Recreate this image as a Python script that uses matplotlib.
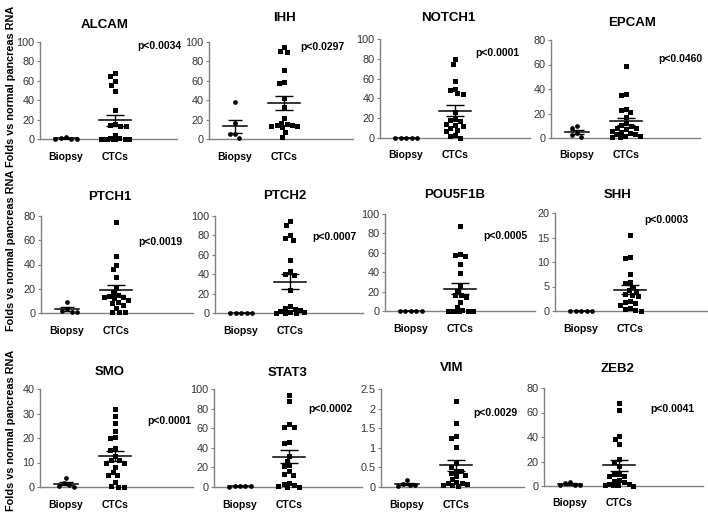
import numpy as np
import matplotlib.pyplot as plt

plt.rcParams['font.family'] = ['Liberation Sans', 'DejaVu Sans']

# ---------------------------------------------------------------- data
genes = ['ALCAM', 'IHH', 'NOTCH1', 'EPCAM',
         'PTCH1', 'PTCH2', 'POU5F1B', 'SHH',
         'SMO', 'STAT3', 'VIM', 'ZEB2']
p_values = ['p<0.0034', 'p<0.0297', 'p<0.0001', 'p<0.0460',
            'p<0.0019', 'p<0.0007', 'p<0.0005', 'p<0.0003',
            'p<0.0001', 'p<0.0002', 'p<0.0029', 'p<0.0041']
y_max = [100, 100, 100, 80, 80, 100, 100, 20, 40, 100, 2.5, 80]
y_step = [20, 20, 20, 20, 20, 20, 20, 5, 10, 20, 0.5, 20]
groups = ['Biopsy', 'CTCs']

alcam_biopsy = [2, 0.8, 0.5, 0.5, 0.3]
alcam_ctcs = [68, 65, 60, 56, 49, 30, 15, 14, 13, 13, 4,
              0.8, 0.6, 0.5, 0.4, 0.3, 0.2, 0.2, 0.1, 0.1]
ihh_biopsy = [38, 17, 5, 5, 1]
ihh_ctcs = [95, 91, 90, 71, 59, 58, 42, 33, 22, 17, 15, 14, 14, 13, 13,
            12, 7, 2]
notch1_biopsy = [0, 0, 0, 0, 0]
notch1_ctcs = [80, 75, 58, 50, 48, 45, 44, 26, 19, 18, 17, 14, 13, 12,
               10, 8, 7, 3, 2, 0]
epcam_biopsy = [9.5, 8.5, 4, 2.5, 1]
epcam_ctcs = [59, 36, 35, 24, 23, 21, 17, 12, 11, 10, 8, 8, 7, 6, 5, 4,
              3, 3, 2, 2, 1, 1]
ptch1_biopsy = [9, 3, 2, 1, 0.5]
ptch1_ctcs = [75, 47, 40, 36, 30, 21, 17, 15, 14, 13, 13, 12, 11, 9, 8,
              7, 4, 1, 0.5, 0.5]
ptch2_biopsy = [0, 0, 0, 0, 0]
ptch2_ctcs = [95, 91, 80, 77, 75, 55, 43, 40, 39, 24, 7, 5, 4, 3, 2, 1,
              1, 0.5, 0.5, 0.5]
pou5f1b_biopsy = [0, 0, 0, 0, 0]
pou5f1b_ctcs = [88, 59, 58, 57, 48, 39, 26, 21, 17, 16, 14, 9, 4, 1,
                0.5, 0.5, 0.5, 0.5, 0.5, 0.5]
shh_biopsy = [0, 0, 0, 0, 0]
shh_ctcs = [15.6, 11, 10.8, 7.5, 5.9, 5.7, 5.0, 4.2, 4.0, 3.5, 3.2, 3.0,
            2.0, 1.8, 1.6, 1.2, 0.6, 0.5, 0.2, 0.1]
smo_biopsy = [3.5, 1.5, 1, 0.3, 0.2]
smo_ctcs = [32, 29, 26, 23, 20.5, 20, 16, 15, 12.5, 11, 11, 10, 10, 8, 6,
            5, 5, 2, 0.3, 0.2, 0.1]
stat3_biopsy = [1.5, 1.2, 1, 0.8, 0.5]
stat3_ctcs = [94, 88, 64, 61, 61, 46, 45, 32, 27, 22, 21, 16, 13, 12, 4,
              3, 2, 1, 0.5, 0.5]
vim_biopsy = [0.18, 0.08, 0.06, 0.05, 0.02]
vim_ctcs = [2.2, 1.62, 1.3, 1.25, 1.03, 0.6, 0.52, 0.42, 0.4, 0.35, 0.3,
            0.28, 0.2, 0.12, 0.1, 0.1, 0.08, 0.05, 0.05, 0.03]
zeb2_biopsy = [3, 2.8, 1, 0.6, 0.5]
zeb2_ctcs = [68, 62, 41, 38, 34, 22, 20, 16, 10, 10, 8, 8, 5, 4, 3, 2,
             1.5, 1, 0.5, 0.5, 0.3]

biopsy = [alcam_biopsy, ihh_biopsy, notch1_biopsy, epcam_biopsy,
          ptch1_biopsy, ptch2_biopsy, pou5f1b_biopsy, shh_biopsy,
          smo_biopsy, stat3_biopsy, vim_biopsy, zeb2_biopsy]
ctcs = [alcam_ctcs, ihh_ctcs, notch1_ctcs, epcam_ctcs,
        ptch1_ctcs, ptch2_ctcs, pou5f1b_ctcs, shh_ctcs,
        smo_ctcs, stat3_ctcs, vim_ctcs, zeb2_ctcs]

# ---------------------------------------------------------------- layout (pixels)
W, H = 708, 512
# left, top, right, bottom of each plot area
boxes = [(40, 42, 177, 139), (209, 42, 353, 139), (380, 39, 530, 138), (551, 40, 700, 138),
         (41, 216, 193, 313), (215, 216, 363, 313), (385, 214, 535, 311), (555, 213, 707, 311),
         (40, 389, 193, 487), (214, 389, 362, 487), (381, 389, 524, 487), (544, 388, 703, 486)]
title_xy = [(105, 25), (284, 18), (448, 18), (632, 23),
            (110, 197), (285, 196), (455, 195), (618, 195),
            (110, 372), (288, 373), (452, 368), (618, 369)]
p_xy = [(137, 46), (300, 47), (475, 53), (658, 59),
        (138, 242), (312, 237), (483, 236), (644, 220),
        (147, 421), (308, 409), (473, 413), (650, 409)]
ylabel_y = [86, 250, 430]

UNIT = 49.0      # pixels between the two groups
OFFSET = 26.0    # pixels from y axis to first group
AXIS_GRAY = '#808080'


def swarm_x(ax, x0, vals, d=5.5, max_half=14.0):
    # simple beeswarm: each point goes to the free spot closest to the centre,
    # rows are kept narrow; if there is no free spot the least crowded one is used
    trans = ax.transData
    px_per_unit = trans.transform((1, 0))[0] - trans.transform((0, 0))[0]
    placed = []
    xs = []
    grid = list(np.linspace(-max_half, max_half, 15))
    for v in vals:
        yp = trans.transform((0, v))[1]
        cands = [0.0] + grid
        for px_, py_ in placed:
            dy = abs(yp - py_)
            if dy < d:
                dx = np.sqrt(d * d - dy * dy)
                cands += [px_ - dx, px_ + dx]
        cands = sorted([c for c in cands if abs(c) <= max_half + 1e-6], key=abs)

        def gap(c):
            if not placed:
                return np.inf
            return min((c - px_) ** 2 + (yp - py_) ** 2 for px_, py_ in placed)

        ok = [c for c in cands if gap(c) >= d * d - 1e-6]
        c = ok[0] if ok else max(cands, key=gap)
        placed.append((c, yp))
        xs.append(x0 + c / px_per_unit)
    return xs


fig = plt.figure(figsize=(W / 100, H / 100), dpi=100)

for i, gene in enumerate(genes):
    l, t, r, b = boxes[i]
    ax = fig.add_axes([l / W, 1 - b / H, (r - l) / W, (b - t) / H])
    ax.set_xlim(-OFFSET / UNIT, (r - l - OFFSET) / UNIT)
    ax.set_ylim(0, y_max[i])

    for s in ['top', 'right']:
        ax.spines[s].set_visible(False)
    for s in ['left', 'bottom']:
        ax.spines[s].set_color(AXIS_GRAY)
        ax.spines[s].set_linewidth(1.0)

    ticks = np.arange(0, y_max[i] + y_step[i] / 2, y_step[i])
    ax.set_yticks(ticks)
    ax.set_yticklabels(['{:g}'.format(v) for v in ticks])
    ax.tick_params(axis='y', length=2.5, width=0.8, color=AXIS_GRAY,
                   labelsize=7.8, labelcolor='#333333', pad=1.5)
    ax.set_xticks([0, 1])
    ax.set_xticklabels(groups, fontweight='bold')
    ax.tick_params(axis='x', length=0, labelsize=7.5, pad=9)

    # group 1: circles, group 2: squares
    for gx, vals, mk, ms, hw, cap in [(0, biopsy[i], 'o', 3.4, 12, 4.7),
                                      (1, ctcs[i], 's', 3.6, 16, 6.5)]:
        vals = sorted(vals, reverse=True)
        xs = swarm_x(ax, gx, vals)
        ax.scatter(xs, vals, marker=mk, s=ms ** 2, color='black',
                   linewidths=0, clip_on=False, zorder=3)
        m = np.mean(vals)
        sem = np.std(vals, ddof=1) / np.sqrt(len(vals))
        ax.plot([gx - hw / UNIT, gx + hw / UNIT], [m, m], color='black',
                lw=1.1, zorder=4)
        ax.errorbar(gx, m, yerr=sem, fmt='none', ecolor='black',
                    elinewidth=1.0, capsize=cap, capthick=1.0, zorder=4)

    fig.text(title_xy[i][0] / W, 1 - title_xy[i][1] / H, gene,
             ha='center', va='center', fontsize=9.5, fontweight='bold')
    fig.text(p_xy[i][0] / W, 1 - p_xy[i][1] / H, p_values[i],
             ha='left', va='center', fontsize=7.5, fontweight='bold')

for yc in ylabel_y:
    fig.text(11 / W, 1 - yc / H, 'Folds vs normal pancreas RNA', rotation=90,
             ha='center', va='center', fontsize=7.8, fontweight='bold')

fig.savefig('out.png', dpi=100)
